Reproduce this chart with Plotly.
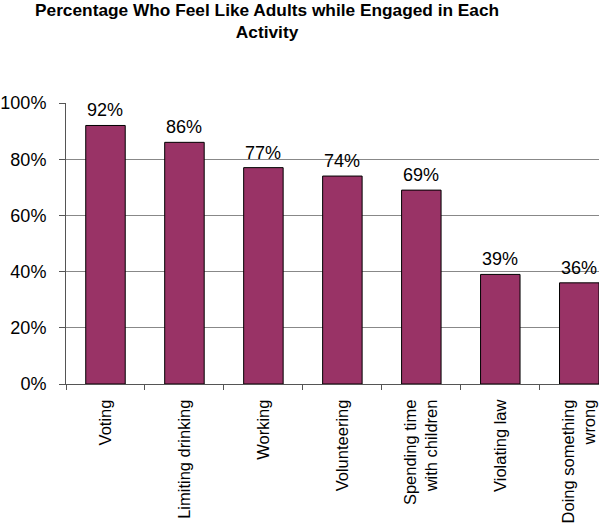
import plotly.graph_objects as go

categories = ["Voting", "Limiting drinking", "Working", "Volunteering",
              "Spending time<br>with children", "Violating law", "Doing something<br>wrong"]
values = [92, 86, 77, 74, 69, 39, 36]
value_labels = ["92%", "86%", "77%", "74%", "69%", "39%", "36%"]
y_ticks = [0, 20, 40, 60, 80, 100]
y_tick_labels = ["0%", "20%", "40%", "60%", "80%", "100%"]

FONT = "Liberation Sans, Arial, sans-serif"

fig = go.Figure(go.Bar(
    x=categories, y=values,
    marker=dict(color="#993366", line=dict(color="black", width=1)),
    width=0.5,
))

annotations = [dict(
    text="<b>Percentage Who Feel Like Adults while Engaged in Each<br>Activity</b>",
    xref="paper", yref="paper", x=0.377, y=1.0, yshift=105,
    xanchor="center", yanchor="top", showarrow=False,
    font=dict(family=FONT, size=17.3, color="black"),
)]
for c, v, lab in zip(categories, values, value_labels):
    annotations.append(dict(
        x=c, y=v, text=lab, xref="x", yref="y",
        xanchor="center", yanchor="bottom", yshift=3, showarrow=False,
        font=dict(family=FONT, size=18, color="black"),
    ))

fig.update_layout(
    width=600, height=524,
    margin=dict(l=66, r=1, t=103, b=140),
    paper_bgcolor="white", plot_bgcolor="white",
    showlegend=False,
    font=dict(family=FONT, size=18, color="black"),
    annotations=annotations,
)

fig.update_xaxes(
    type="category", range=[-0.5, 6.25], automargin=False,
    tickangle=-90, tickson="boundaries",
    ticks="outside", ticklen=5, tickcolor="#555",
    showline=True, linecolor="#555", linewidth=1,
    tickfont=dict(family=FONT, size=16.5, color="black"),
    ticklabelstandoff=8,
    showgrid=False,
)
fig.update_yaxes(
    range=[0, 100], tickvals=y_ticks, ticktext=y_tick_labels, automargin=False,
    ticks="outside", ticklen=6, tickcolor="#555",
    showline=True, linecolor="#555", linewidth=1,
    showgrid=True, gridcolor="#888", gridwidth=1,
    tickfont=dict(family=FONT, size=18, color="black"),
    ticklabelstandoff=9, zeroline=False,
)

fig.write_html("out.html", config={"displayModeBar": False},
               post_script="document.body.style.margin='0';")
